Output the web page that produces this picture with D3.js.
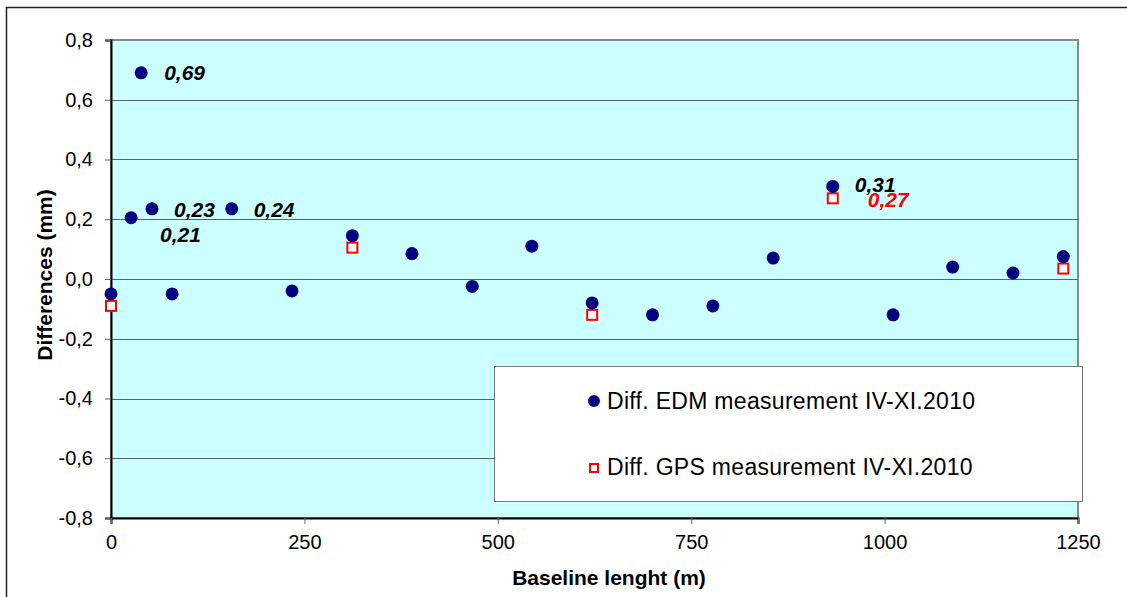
<!DOCTYPE html>
<html>
<head>
<meta charset="utf-8">
<script src="https://cdn.jsdelivr.net/npm/d3@7"></script>
<style>
  body { margin: 0; background: #fff; }
  svg text { font-family: Arial, "Liberation Sans", sans-serif; }
</style>
</head>
<body>
<div id="chart"></div>
<script>
// baseline lengths (m) and differences (mm)
const edmX = [0, 26, 39, 53, 79, 156, 234, 312, 389, 467, 544, 622, 700, 778, 856, 933, 1011, 1088, 1166, 1231];
const edmY = [-0.05, 0.205, 0.69, 0.235, -0.05, 0.235, -0.04, 0.145, 0.085, -0.025, 0.11, -0.08, -0.12, -0.09, 0.07, 0.31, -0.12, 0.04, 0.02, 0.075];
const gpsX = [0, 312, 622, 933, 1231];
const gpsY = [-0.09, 0.105, -0.12, 0.27, 0.035];
const labels = [
    {x: 39, y: 0.69, text: "0,69", dx: 23, dy: 7, color: "#000"},
    {x: 53, y: 0.235, text: "0,23", dx: 22, dy: 8, color: "#000"},
    {x: 26, y: 0.205, text: "0,21", dx: 29, dy: 24, color: "#000"},
    {x: 156, y: 0.235, text: "0,24", dx: 22, dy: 8, color: "#000"},
    {x: 933, y: 0.31, text: "0,31", dx: 22, dy: 6, color: "#000"},
    {x: 933, y: 0.27, text: "0,27", dx: 35, dy: 9, color: "#ff0000"}
];
const xTicks = [0, 250, 500, 750, 1000, 1250];
const yTicks = [-0.8, -0.6, -0.4, -0.2, 0, 0.2, 0.4, 0.6, 0.8];

const width = 1127;
const height = 597;
const plot = {left: 111, right: 1078, top: 40, bottom: 518};

const svg = d3.select("#chart").append("svg")
    .attr("width", width)
    .attr("height", height);

// outer chart frame
svg.append("rect")
    .attr("x", 6.5).attr("y", 7.5)
    .attr("width", width + 10).attr("height", height + 10)
    .attr("fill", "#fff")
    .attr("stroke", "#222").attr("stroke-width", 1.5);

const xScale = d3.scaleLinear().domain([0, 1250]).range([plot.left, plot.right]);
const yScale = d3.scaleLinear().domain([-0.8, 0.8]).range([plot.bottom, plot.top]);

// plot area
svg.append("rect")
    .attr("x", plot.left).attr("y", plot.top)
    .attr("width", plot.right - plot.left).attr("height", plot.bottom - plot.top)
    .attr("fill", "#ccffff")
    .attr("stroke", "#888").attr("stroke-width", 2);

// gridlines
svg.append("g").selectAll("line")
    .data(yTicks.filter(d => d > -0.8 && d < 0.8))
    .enter().append("line")
    .attr("x1", plot.left).attr("x2", plot.right)
    .attr("y1", d => Math.round(yScale(d)) + 0.5)
    .attr("y2", d => Math.round(yScale(d)) + 0.5)
    .attr("stroke", "#556666").attr("stroke-width", 1);

// axes
const fmt = d => d3.format(".1f")(d).replace(".", ",").replace("−", "-");

const yAxis = d3.axisLeft(yScale).tickValues(yTicks).tickSize(6).tickPadding(12).tickFormat(fmt);
const gy = svg.append("g")
    .attr("transform", "translate(" + plot.left + ",0)")
    .call(yAxis);
gy.select(".domain").attr("stroke", "#000").attr("stroke-width", 2);
gy.selectAll(".tick line").attr("stroke", "#666");
gy.selectAll("text").attr("font-size", 20).attr("fill", "#000");

const xAxis = d3.axisBottom(xScale).tickValues(xTicks).tickSize(6).tickPadding(11).tickFormat(d3.format("d"));
const gx = svg.append("g")
    .attr("transform", "translate(0," + plot.bottom + ")")
    .call(xAxis);
gx.select(".domain").attr("stroke", "#000").attr("stroke-width", 2);
gx.selectAll(".tick line").attr("stroke", "#666");
gx.selectAll("text").attr("font-size", 20).attr("fill", "#000");

// axis titles
svg.append("text")
    .attr("x", 609)
    .attr("y", 585)
    .attr("text-anchor", "middle")
    .attr("font-size", 21).attr("font-weight", "bold")
    .text("Baseline lenght (m)");

svg.append("text")
    .attr("transform", "translate(52,275) rotate(-90)")
    .attr("text-anchor", "middle")
    .attr("font-size", 21).attr("font-weight", "bold")
    .text("Differences (mm)");

// legend
const legend = svg.append("g");
legend.append("rect")
    .attr("x", 494.5).attr("y", 366.5)
    .attr("width", 588).attr("height", 135)
    .attr("fill", "#fff")
    .attr("stroke", "#777").attr("stroke-width", 1);
legend.append("circle")
    .attr("cx", 594).attr("cy", 401).attr("r", 6)
    .attr("fill", "#000080");
legend.append("text")
    .attr("x", 607).attr("y", 409)
    .attr("font-size", 23).attr("letter-spacing", 0.3)
    .text("Diff. EDM measurement IV-XI.2010");
legend.append("rect")
    .attr("x", 590).attr("y", 464).attr("width", 8).attr("height", 8)
    .attr("fill", "#fff").attr("stroke", "#ff0000").attr("stroke-width", 2);
legend.append("text")
    .attr("x", 607).attr("y", 475)
    .attr("font-size", 23).attr("letter-spacing", 0.3)
    .text("Diff. GPS measurement IV-XI.2010");

// GPS squares
svg.append("g").selectAll("rect")
    .data(gpsX.map((x, i) => [x, gpsY[i]]))
    .enter().append("rect")
    .attr("x", d => xScale(d[0]) - 5)
    .attr("y", d => yScale(d[1]) - 5)
    .attr("width", 10).attr("height", 10)
    .attr("fill", "#fff").attr("stroke", "#ff0000").attr("stroke-width", 2);

// EDM circles
svg.append("g").selectAll("circle")
    .data(edmX.map((x, i) => [x, edmY[i]]))
    .enter().append("circle")
    .attr("cx", d => xScale(d[0]))
    .attr("cy", d => yScale(d[1]))
    .attr("r", 6.5)
    .attr("fill", "#000080");

// data labels
svg.append("g").selectAll("text")
    .data(labels)
    .enter().append("text")
    .attr("x", d => xScale(d.x) + d.dx)
    .attr("y", d => yScale(d.y) + d.dy)
    .attr("font-size", 21).attr("font-weight", "bold").attr("font-style", "italic")
    .attr("fill", d => d.color)
    .text(d => d.text);
</script>
</body>
</html>
